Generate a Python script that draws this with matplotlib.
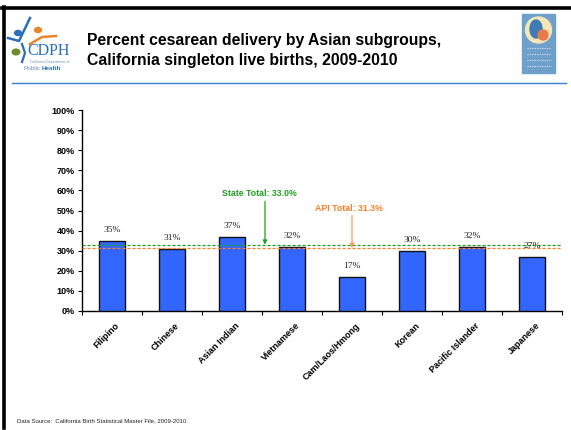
import matplotlib
matplotlib.use("Agg")
import matplotlib.pyplot as plt
from matplotlib.patches import Rectangle, Circle, Ellipse
from matplotlib.lines import Line2D

# Cesarean delivery rates (%) by Asian subgroup
groups = ["Filipino", "Chinese", "Asian Indian", "Vietnamese",
          "Cam/Laos/Hmong", "Korean", "Pacific Islander", "Japanese"]
rates = [35, 31, 37, 32, 17, 30, 32, 27]
state_total = 33.0
api_total = 31.3
y_ticks = [0, 10, 20, 30, 40, 50, 60, 70, 80, 90, 100]

W, H = 571, 430
fig = plt.figure(figsize=(W / 100, H / 100), dpi=100)
fig.patch.set_facecolor("white")


def fx(px):
    return px / W


def fy(py):
    return 1 - py / H


# slide frame: thick left and top rules
fig.add_artist(Line2D([fx(3.5), fx(3.5)], [fy(7), fy(428)], color="black", lw=2.6,
                      transform=fig.transFigure))
fig.add_artist(Line2D([fx(2.2), fx(571)], [fy(7.5), fy(7.5)], color="black", lw=2.6,
                      transform=fig.transFigure))
# blue rule under the header
fig.add_artist(Line2D([fx(12), fx(566)], [fy(83), fy(83)], color="#3b7dd8", lw=1.0,
                      transform=fig.transFigure))

# header title
fig.text(fx(87), fy(41), "Percent cesarean delivery by Asian subgroups,",
         fontsize=11.3, fontweight="bold", family="Liberation Sans",
         va="center", ha="left")
fig.text(fx(87), fy(60), "California singleton live births, 2009-2010",
         fontsize=11.3, fontweight="bold", family="Liberation Sans",
         va="center", ha="left")

# left emblem (simplified)
fig.add_artist(Circle((fx(18), fy(33)), 3.4 / W, color="#2a6fb8", transform=fig.transFigure))
fig.add_artist(Circle((fx(38), fy(30)), 3.4 / W, color="#e8852b", transform=fig.transFigure))
fig.add_artist(Circle((fx(16), fy(52)), 3.8 / W, color="#6d8f2b", transform=fig.transFigure))
fig.add_artist(Line2D([fx(8), fx(19), fx(30)], [fy(38), fy(41), fy(18)], color="#2a6fb8",
                      lw=1.8, transform=fig.transFigure))
fig.add_artist(Line2D([fx(30), fx(42), fx(56)], [fy(44), fy(37), fy(36)], color="#e8852b",
                      lw=1.8, transform=fig.transFigure))
fig.add_artist(Line2D([fx(22), fx(25), fx(22)], [fy(44), fy(53), fy(62)], color="#2a6fb8",
                      lw=1.6, transform=fig.transFigure))
fig.text(fx(27), fy(51), "CDPH", fontsize=11.5, family="Liberation Serif",
         color="#2a6fb8", va="center", ha="left")
fig.text(fx(30), fy(61.5), "California Department of", fontsize=2.3, color="#6a8fc0",
         va="center", ha="left")
fig.text(fx(24), fy(69), "Public", fontsize=4.6, color="#6a8fc0", va="center", ha="left",
         family="Liberation Sans")
fig.text(fx(42), fy(69), "Health", fontsize=4.6, color="#2a6fb8", va="center", ha="left",
         fontweight="bold", family="Liberation Sans")

# right emblem (simplified)
fig.add_artist(Rectangle((fx(522), fy(73)), 33 / W, 59 / H, color="#6f9fcb",
                         transform=fig.transFigure))
fig.add_artist(Ellipse((fx(538.5), fy(30)), 26 / W, 26 / H, color="#f3e7b8",
                       transform=fig.transFigure))
fig.add_artist(Ellipse((fx(536), fy(29)), 12 / W, 18 / H, color="#3f79b6",
                       transform=fig.transFigure))
fig.add_artist(Ellipse((fx(543), fy(35)), 10 / W, 10 / H, color="#e57c4a",
                       transform=fig.transFigure))
for yy in [48, 54, 60, 66]:
    fig.add_artist(Line2D([fx(527), fx(550)], [fy(yy), fy(yy)], color="#dfe8f2",
                          lw=0.8, ls=(0, (1, 1.2)), transform=fig.transFigure))

# chart axes
ax = fig.add_axes([fx(82), fy(311), (562 - 82) / W, (311 - 110) / H])
x = list(range(len(groups)))
ax.bar(x, rates, width=0.42, color="#3366ff", edgecolor="#111111",
       linewidth=1.0, zorder=3)

for xi, v in zip(x, rates):
    ax.annotate(f"{v}%", (xi, v), xytext=(0, 5), textcoords="offset points",
                ha="center", va="bottom", fontsize=6.8, family="Liberation Serif",
                color="#222222", zorder=5)

# reference lines
ax.axhline(state_total, color="#1f9e1f", lw=0.9, ls=(0, (2.5, 1.5)), zorder=4)
ax.axhline(api_total, color="#ff7f27", lw=0.9, ls=(0, (2.5, 1.5)), zorder=4)

ax.annotate("", xy=(2.55, state_total), xytext=(2.55, 54.5),
            arrowprops=dict(arrowstyle="-|>", color="#1f9e1f", lw=0.9,
                            mutation_scale=6, shrinkA=0, shrinkB=0), zorder=6)
ax.text(2.45, 58.5, f"State Total: {state_total:.1f}%", color="#1f9e1f", fontsize=6.3,
        fontweight="bold", family="Liberation Sans", ha="center", va="center")

ax.annotate("", xy=(4.0, api_total), xytext=(4.0, 47.5),
            arrowprops=dict(arrowstyle="-|>", color="#ff9a5a", lw=0.9,
                            mutation_scale=6, shrinkA=0, shrinkB=0), zorder=6)
ax.text(3.95, 51, f"API Total: {api_total:.1f}%", color="#ff7f27", fontsize=6.3,
        fontweight="bold", family="Liberation Sans", ha="center", va="center")

ax.set_xlim(-0.5, len(groups) - 0.5)
ax.set_ylim(0, 100)
ax.set_yticks(y_ticks)
ax.set_yticklabels([f"{t}%" for t in y_ticks], fontsize=6.5, fontweight="bold",
                   family="Liberation Sans")
ax.set_xticks([i - 0.5 for i in range(len(groups) + 1)])
ax.set_xticklabels([])
ax.tick_params(axis="x", direction="out", length=3, width=0.8)
ax.tick_params(axis="y", direction="out", length=3, width=0.8, pad=2)
for xi, g in zip(x, groups):
    ax.text(xi + 0.05, -5, g, rotation=45, ha="right", va="top", fontsize=6.5,
            fontweight="bold", family="Liberation Sans", rotation_mode="anchor")

for s in ["top", "right"]:
    ax.spines[s].set_visible(False)
ax.spines["left"].set_linewidth(1.0)
ax.spines["bottom"].set_linewidth(1.0)

fig.text(fx(17), fy(421), "Data Source:  California Birth Statistical Master File, 2009-2010.",
         fontsize=4.3, family="Liberation Sans", va="center", ha="left", color="#222222")

fig.savefig("out.png", dpi=100)
